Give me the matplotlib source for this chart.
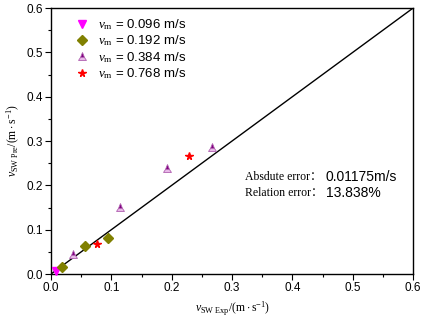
import matplotlib
matplotlib.use("Agg")
import matplotlib.pyplot as plt
from matplotlib.ticker import MultipleLocator

# Data
x_096 = [0.008]
y_096 = [0.007]
x_192 = [0.019, 0.057, 0.095]
y_192 = [0.016, 0.063, 0.082]
x_384 = [0.037, 0.114, 0.192, 0.267]
y_384 = [0.045, 0.151, 0.239, 0.287]
x_768 = [0.077, 0.229]
y_768 = [0.067, 0.267]
labels = ["0.096 m/s", "0.192 m/s", "0.384 m/s", "0.768 m/s"]
ticks = [0.0, 0.1, 0.2, 0.3, 0.4, 0.5, 0.6]

sans = "Liberation Sans"
serif = "Liberation Serif"
plt.rcParams['font.family'] = [sans, 'DejaVu Sans']
plt.rcParams['mathtext.fontset'] = 'custom'
plt.rcParams['mathtext.rm'] = serif
plt.rcParams['mathtext.it'] = serif + ':italic'

fig = plt.figure(figsize=(4.26, 3.22), dpi=100)
ax = fig.add_axes([0.1197, 0.149, 0.85, 0.826])

ax.plot([0, 0.6], [0, 0.6], color='black', lw=1.0, zorder=1)

ms = 5.5
h1, = ax.plot(x_096, y_096, 'v', color='#FF00FF', ms=ms, ls='none', zorder=3, clip_on=False)
h2, = ax.plot(x_192, y_192, 'D', color='#808000', ms=ms-0.5, ls='none', zorder=3)
h3, = ax.plot(x_384, y_384, '^', color='#800080', markerfacecolor='#800080',
              markerfacecoloralt='#E8B8E8', fillstyle='top', markeredgecolor='#B060B0',
              markeredgewidth=0.6, ms=ms, ls='none', zorder=3)
h4, = ax.plot(x_768, y_768, '*', color='#FF0000', ms=ms, ls='none', zorder=3)

leg_labels = [r"$\mathit{v}_{\mathrm{m}}$" + " = " + l for l in labels]
leg = ax.legend([h1, h2, h3, h4], leg_labels, loc='upper left',
                bbox_to_anchor=(0.025, 1.01), frameon=False, fontsize=9.5,
                handletextpad=0.5, labelspacing=0.12, handlelength=1.5)

ax.set_xlim(0, 0.6)
ax.set_ylim(0, 0.6)
ax.set_xticks(ticks)
ax.set_yticks(ticks)
ax.set_xticklabels([f"{t:.1f}" for t in ticks])
ax.set_yticklabels([f"{t:.1f}" for t in ticks])
ax.xaxis.set_minor_locator(MultipleLocator(0.05))
ax.yaxis.set_minor_locator(MultipleLocator(0.05))
ax.tick_params(which='major', direction='out', length=4, width=0.8, labelsize=8.5, pad=2)
ax.tick_params(which='minor', direction='out', length=2.5, width=0.8)
for s in ax.spines.values():
    s.set_linewidth(1.0)

ax.set_xlabel(r"$\mathit{v}_{\mathrm{SW\ Exp}}/(\mathrm{m\cdot s^{-1}})$", fontsize=8.5, labelpad=4)
ax.set_ylabel(r"$\mathit{v}_{\mathrm{SW\ Pre}}/(\mathrm{m\cdot s^{-1}})$", fontsize=8.5, labelpad=3)

ax.text(0.322, 0.218, "Absdute error：", fontsize=8.5, family=[serif, 'Noto Sans CJK SC'], va='center')
ax.text(0.455, 0.218, "0.01175m/s", fontsize=10, family=sans, va='center')
ax.text(0.322, 0.182, "Relation error：", fontsize=8.5, family=[serif, 'Noto Sans CJK SC'], va='center')
ax.text(0.455, 0.182, "13.838%", fontsize=10, family=sans, va='center')

fig.savefig("out.png", dpi=100)
